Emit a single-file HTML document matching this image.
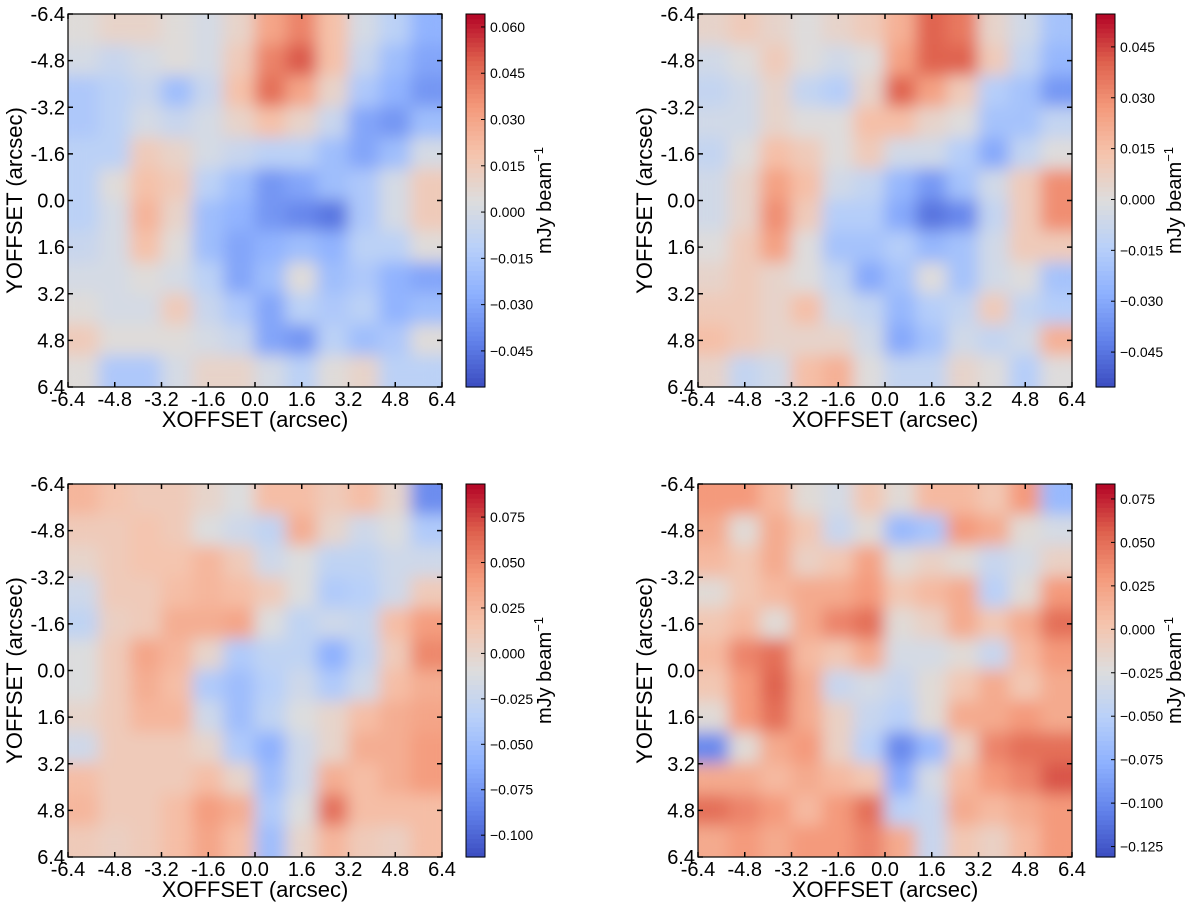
<!DOCTYPE html>
<html><head><meta charset="utf-8">
<style>
html,body{margin:0;padding:0;background:#fff;}
svg{display:block;font-family:"Liberation Sans","DejaVu Sans",sans-serif;}
</style></head>
<body>
<svg id="fig" width="1200" height="904" viewBox="0 0 1200 904" xmlns="http://www.w3.org/2000/svg">
<defs>
<filter id="smooth" x="0" y="0" width="1" height="1">
<feGaussianBlur stdDeviation="8" edgeMode="duplicate"/>
<feComponentTransfer><feFuncA type="table" tableValues="1 1"/></feComponentTransfer>
</filter>
</defs>
</svg>
<script>
const tickVals = [-6.4,-4.8,-3.2,-1.6,0.0,1.6,3.2,4.8,6.4];
const tickLabels = ["-6.4","-4.8","-3.2","-1.6","0.0","1.6","3.2","4.8","6.4"];

const map1 = [
[0.005,0.01,0.01,0.005,0.0,0.01,0.03,0.04,0.02,0.0,-0.01,-0.025],
[0.0,-0.005,0.0,0.005,0.0,0.015,0.04,0.05,0.02,-0.005,-0.02,-0.03],
[-0.015,-0.01,-0.005,-0.02,-0.005,0.02,0.045,0.03,0.01,-0.015,-0.025,-0.035],
[-0.015,-0.01,0.0,-0.005,0.0,0.01,0.02,0.01,-0.005,-0.03,-0.035,-0.02],
[-0.01,-0.01,0.015,0.01,0.0,-0.005,-0.01,-0.01,-0.02,-0.03,-0.02,0.0],
[-0.01,0.005,0.02,0.015,-0.01,-0.02,-0.035,-0.03,-0.02,-0.015,0.0,0.015],
[-0.01,0.0,0.025,0.01,-0.02,-0.025,-0.035,-0.04,-0.045,-0.015,0.0,0.015],
[-0.005,0.0,0.02,0.005,-0.02,-0.03,-0.025,-0.02,-0.025,-0.01,-0.01,0.005],
[0.0,0.0,0.005,0.0,-0.01,-0.03,-0.02,0.005,-0.02,-0.015,-0.025,-0.03],
[0.005,0.0,0.0,0.015,-0.005,-0.015,-0.03,-0.01,-0.015,-0.01,-0.025,-0.02],
[0.015,0.005,0.005,0.005,0.0,-0.005,-0.03,-0.035,-0.01,-0.02,-0.015,0.005],
[0.005,-0.015,-0.015,0.0,0.01,0.01,0.0,-0.01,0.005,0.01,-0.01,-0.01]];
const map2 = [
[0.005,0.01,0.005,0.0,0.005,0.01,0.02,0.04,0.035,0.005,-0.005,-0.02],
[-0.005,0.0,0.01,0.0,-0.005,0.0,0.025,0.04,0.04,0.01,-0.01,-0.025],
[-0.01,-0.005,0.005,-0.01,-0.015,0.005,0.04,0.025,0.01,-0.015,-0.02,-0.035],
[-0.005,-0.005,0.005,0.0,0.0,0.015,0.015,0.005,0.0,-0.02,-0.02,-0.01],
[-0.01,0.0,0.015,0.01,0.0,0.01,-0.005,-0.005,-0.015,-0.03,-0.01,0.0],
[-0.005,0.005,0.025,0.015,-0.005,-0.01,-0.025,-0.035,-0.02,-0.005,0.01,0.03],
[-0.005,0.005,0.03,0.01,-0.015,-0.015,-0.03,-0.045,-0.04,-0.01,0.01,0.03],
[0.0,0.01,0.025,0.0,-0.02,-0.02,-0.015,-0.025,-0.02,-0.005,0.01,0.01],
[0.005,0.01,0.005,0.0,-0.01,-0.03,-0.02,0.0,-0.02,-0.005,0.0,-0.02],
[0.01,0.01,0.005,0.015,-0.005,-0.01,-0.025,-0.015,-0.01,0.01,-0.01,-0.015],
[0.015,0.01,0.005,0.005,0.005,-0.005,-0.03,-0.02,-0.005,-0.01,-0.005,0.02],
[0.005,-0.01,-0.005,0.015,0.02,0.0,-0.01,-0.01,0.005,0.0,-0.015,0.0]];
const map3 = [
[0.025,0.015,0.01,0.01,0.0,-0.01,0.02,0.02,0.01,0.02,0.0,-0.08],
[0.01,0.01,0.015,0.01,-0.01,-0.02,-0.03,0.03,0.0,-0.02,-0.01,-0.04],
[0.0,0.01,0.015,0.015,0.025,0.01,-0.02,-0.01,-0.03,-0.03,-0.02,-0.02],
[-0.02,0.01,0.01,0.02,0.025,0.02,0.01,-0.01,-0.04,-0.035,-0.02,0.01],
[-0.03,0.005,0.01,0.03,0.03,0.035,-0.01,-0.03,-0.02,-0.025,0.02,0.04],
[-0.01,0.01,0.035,0.025,0.0,-0.04,-0.03,-0.03,-0.06,-0.03,0.01,0.05],
[-0.01,0.01,0.03,0.02,-0.04,-0.05,-0.035,-0.02,-0.04,-0.02,0.02,0.03],
[0.0,0.01,0.025,0.025,-0.02,-0.05,-0.03,-0.01,0.0,0.02,0.03,0.035],
[-0.02,0.01,0.01,0.01,0.0,-0.04,-0.06,-0.02,0.0,0.03,0.03,0.04],
[0.02,0.01,0.01,0.01,0.02,0.0,-0.05,-0.02,0.03,0.02,0.03,0.04],
[0.025,0.01,0.01,0.02,0.04,0.03,-0.04,-0.01,0.06,0.02,0.02,0.02],
[0.01,0.005,0.01,0.02,0.035,0.02,-0.05,0.0,0.025,0.01,0.005,0.02]];
const map4 = [
[0.03,0.03,0.01,-0.02,-0.03,0.0,-0.02,0.01,0.01,0.0,0.03,-0.07],
[0.02,-0.02,0.02,0.0,-0.04,-0.02,-0.07,-0.06,0.03,0.02,-0.02,-0.03],
[0.01,0.0,0.02,-0.01,0.0,0.025,-0.02,-0.01,-0.02,-0.04,-0.03,-0.01],
[-0.02,0.0,0.01,0.02,0.02,0.03,0.0,0.01,0.02,-0.05,-0.02,0.03],
[0.0,0.01,-0.02,0.02,0.04,0.05,-0.02,-0.01,0.02,0.0,0.02,0.05],
[0.01,0.04,0.05,0.01,0.0,0.02,-0.03,-0.03,-0.02,-0.04,0.01,0.03],
[0.0,0.03,0.055,0.02,-0.04,-0.03,-0.04,-0.02,0.0,0.02,0.0,0.02],
[-0.02,0.03,0.05,0.02,-0.01,-0.04,-0.05,-0.02,0.02,0.02,0.03,0.02],
[-0.1,-0.02,0.02,0.03,-0.01,-0.05,-0.1,-0.07,-0.01,0.04,0.05,0.05],
[0.02,0.02,0.01,0.02,0.01,0.0,-0.08,-0.03,0.01,0.03,0.04,0.06],
[0.05,0.04,0.03,0.01,0.03,0.05,-0.05,-0.04,0.02,0.01,0.02,0.03],
[0.02,0.03,0.02,0.03,0.03,0.04,0.02,-0.04,0.0,-0.01,0.01,0.03]];

const vmin1=-0.0567, vmax1=0.0642;
const vmin2=-0.0553, vmax2=0.0547;
const vmin3=-0.112, vmax3=0.0932;
const vmin4=-0.131, vmax4=0.0836;
const cbTicks1=[-0.045,-0.030,-0.015,0.000,0.015,0.030,0.045,0.060];
const cbTicks2=[-0.045,-0.030,-0.015,0.000,0.015,0.030,0.045];
const cbTicks3=[-0.100,-0.075,-0.050,-0.025,0.000,0.025,0.050,0.075];
const cbTicks4=[-0.125,-0.100,-0.075,-0.050,-0.025,0.000,0.025,0.050,0.075];

const NS="http://www.w3.org/2000/svg";
const svg=document.getElementById('fig');
const stops=[[0,[59,76,192]],[0.125,[98,130,234]],[0.25,[141,176,254]],[0.375,[184,208,249]],[0.5,[221,221,221]],[0.625,[245,196,173]],[0.75,[244,154,123]],[0.875,[222,96,77]],[1,[180,4,38]]];
function cmap(t){t=Math.max(0,Math.min(1,t));for(let i=1;i<stops.length;i++){if(t<=stops[i][0]){const a=stops[i-1],b=stops[i];const f=(t-a[0])/(b[0]-a[0]);const c=a[1].map((v,k)=>Math.round(v+(b[1][k]-v)*f));return `rgb(${c[0]},${c[1]},${c[2]})`;}}return 'rgb(180,4,38)';}
function mk(tag,attrs,parent){const e=document.createElementNS(NS,tag);for(const k in attrs)e.setAttribute(k,attrs[k]);(parent||svg).appendChild(e);return e;}

function panel(idx,ox,oy,data,vmin,vmax,cbTicks){
  const W=374,H=373;
  const g=mk('g',{});
  
  
  const xs=v=>ox+(v+6.4)/12.8*W;
  const ys=v=>oy+(v+6.4)/12.8*H;
  const clipId='clip'+idx;
  const cp=mk('clipPath',{id:clipId},g);
  mk('rect',{x:ox,y:oy,width:W,height:H},cp);
  const cg=mk('g',{'clip-path':`url(#${clipId})`},g);
  const hm=mk('g',{filter:'url(#smooth)'},cg);
  
  
  const n=data.length,m=data[0].length;
  const cw=W/m,ch=H/n;
  for(let r=0;r<n;r++)for(let c=0;c<m;c++){
    const rc=mk('rect',{x:ox+c*cw-0.5,y:oy+r*ch-0.5,width:cw+1,height:ch+1,fill:cmap((data[r][c]-vmin)/(vmax-vmin))},hm);
    
    
  }
  const fr=mk('rect',{x:ox,y:oy,width:W,height:H,fill:'none',stroke:'#000','stroke-width':1.2},g);
  
  
  tickVals.forEach((v,i)=>{
    const x=xs(v),y=ys(v);
    mk('line',{x1:x,y1:oy+H,x2:x,y2:oy+H-5,stroke:'#000','stroke-width':1.5},g);
    mk('line',{x1:x,y1:oy,x2:x,y2:oy+5,stroke:'#000','stroke-width':1.5},g);
    mk('line',{x1:ox,y1:y,x2:ox+5,y2:y,stroke:'#000','stroke-width':1.5},g);
    mk('line',{x1:ox+W,y1:y,x2:ox+W-5,y2:y,stroke:'#000','stroke-width':1.5},g);
    const tx=mk('text',{x:x,y:oy+H+19,'text-anchor':'middle','font-size':20},g);
    tx.textContent=tickLabels[i];
    
    
    const ty=mk('text',{x:ox-3,y:y+7,'text-anchor':'end','font-size':20},g);
    ty.textContent=tickLabels[i];
    
    
  });
  const xt=mk('text',{x:ox+W/2,y:oy+H+40,'text-anchor':'middle','font-size':22},g);
  xt.textContent='XOFFSET (arcsec)';
  
  
  const yt=mk('text',{x:0,y:0,'text-anchor':'middle','font-size':22,transform:`translate(${ox-46},${oy+H/2}) rotate(-90)`},g);
  yt.textContent='YOFFSET (arcsec)';
  
  
  const cx=ox+398,cwid=19;
  const cb=mk('g',{},g);
  
  
  const N=80;
  for(let i=0;i<N;i++){
    mk('rect',{x:cx,y:oy+H-(i+1)*H/N,width:cwid,height:H/N+0.6,fill:cmap((i+0.5)/N)},cb);
  }
  mk('rect',{x:cx,y:oy,width:cwid,height:H,fill:'none',stroke:'#000','stroke-width':1},cb);
  const cys=v=>oy+H-(v-vmin)/(vmax-vmin)*H;
  cbTicks.forEach(v=>{
    const y=cys(v);
    mk('line',{x1:cx+cwid,y1:y,x2:cx+cwid-4,y2:y,stroke:'#000','stroke-width':1},cb);
    const t=mk('text',{x:cx+cwid+5,y:y+5,'font-size':14},cb);
    t.textContent=(v<0?'\u2212':'')+Math.abs(v).toFixed(3);
    
    
  });
  const cl=mk('text',{x:0,y:0,'text-anchor':'middle','font-size':20,transform:`translate(${cx+cwid+66},${oy+H/2}) rotate(-90)`},cb);
  cl.innerHTML='mJy beam<tspan dy="-8" font-size="13">\u22121</tspan>';
  
  
}
panel(1,68,14,map1,vmin1,vmax1,cbTicks1);
panel(2,698,14,map2,vmin2,vmax2,cbTicks2);
panel(3,68,484,map3,vmin3,vmax3,cbTicks3);
panel(4,698,484,map4,vmin4,vmax4,cbTicks4);
</script>
</body></html>
